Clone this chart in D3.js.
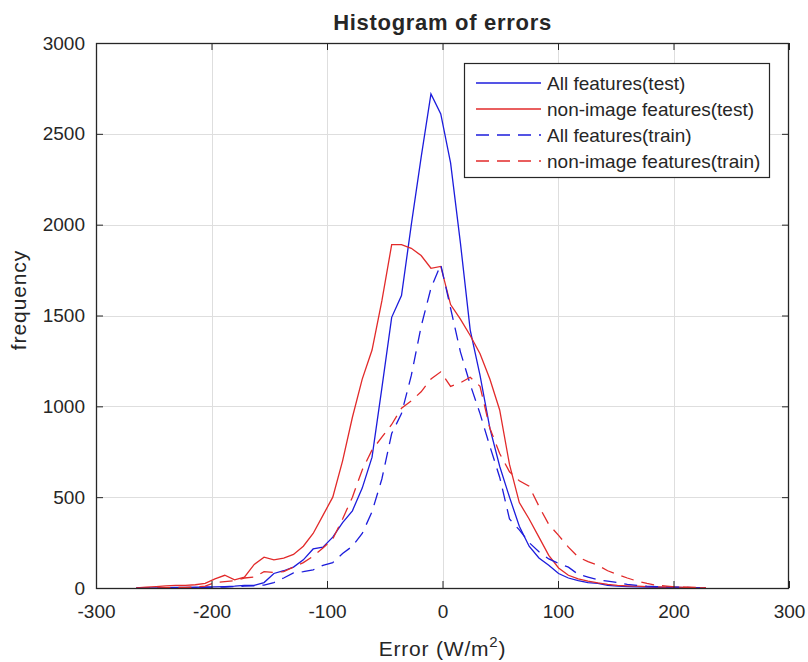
<!DOCTYPE html>
<html>
<head>
<meta charset="utf-8">
<script src="https://cdn.jsdelivr.net/npm/d3@7"></script>
<style>
  html, body { margin: 0; padding: 0; background: #fff; }
  svg { display: block; }
  text { font-family: "Liberation Sans", Arial, Helvetica, sans-serif; fill: #262626; }
</style>
</head>
<body>
<svg id="chart" width="808" height="662"></svg>
<script>
// Histogram bin centres (W/m^2)
const binCenters = [-265, -256.5, -248, -239.5, -231, -222.5, -214, -205.5, -197, -188.5,
  -180, -171.5, -163, -154.5, -146, -137.5, -129, -120.5, -112, -103.5,
  -95, -86.5, -78, -69.5, -61, -52.5, -44, -35.5, -27, -18.5,
  -10, -1.5, 7, 15.5, 24, 32.5, 41, 49.5, 58, 66.5,
  75, 83.5, 92, 100.5, 109, 117.5, 126, 134.5, 143, 151.5,
  160, 168.5, 177, 185.5, 194, 202.5, 211, 219.5, 228];

// Frequencies per bin
const allTest = [0, 0, 0, 2, 3, 3, 4, 5, 6, 8,
  10, 15, 15, 30, 80, 95, 115, 155, 215, 225,
  280, 360, 425, 550, 720, 1100, 1490, 1610, 2000, 2370,
  2720, 2610, 2340, 1900, 1420, 1170, 880, 670, 500, 340,
  230, 165, 125, 80, 55, 40, 30, 25, 15, 10,
  8, 6, 5, 4, 3, 3, 2, 0, 0];

const nonImageTest = [0, 5, 8, 12, 14, 14, 18, 25, 50, 70,
  45, 60, 130, 170, 155, 165, 185, 230, 300, 400,
  500, 700, 940, 1150, 1310, 1580, 1890, 1890, 1870, 1830,
  1760, 1770, 1560, 1480, 1390, 1290, 1150, 980, 680, 470,
  380, 280, 180, 110, 70, 50, 38, 28, 20, 15,
  12, 10, 8, 6, 5, 5, 3, 2, 0];

const allTrain = [0, 0, 0, 0, 0, 2, 3, 4, 5, 5,
  8, 10, 12, 16, 30, 55, 83, 90, 100, 125,
  140, 190, 230, 300, 420, 600, 850, 960, 1170, 1440,
  1650, 1780, 1540, 1300, 1120, 960, 780, 610, 380, 320,
  250, 200, 160, 135, 115, 75, 60, 45, 38, 30,
  20, 14, 10, 8, 6, 5, 3, 0, 0];

const nonImageTrain = [0, 0, 0, 2, 3, 3, 5, 10, 30, 35,
  40, 55, 60, 90, 85, 90, 115, 140, 175, 220,
  270, 380, 500, 650, 760, 830, 900, 990, 1030, 1080,
  1150, 1190, 1110, 1130, 1160, 1110, 880, 740, 640, 590,
  560, 450, 350, 290, 225, 170, 145, 125, 95, 75,
  55, 38, 25, 15, 10, 6, 4, 3, 0];

const xTicks = [-300, -200, -100, 0, 100, 200, 300];
const yTicks = [0, 500, 1000, 1500, 2000, 2500, 3000];

const seriesNames = ["All features(test)", "non-image features(test)",
  "All features(train)", "non-image features(train)"];

const series = [
  { name: seriesNames[0], values: allTest, color: "#1c1cdc", dash: null },
  { name: seriesNames[1], values: nonImageTest, color: "#e22a2a", dash: null },
  { name: seriesNames[2], values: allTrain, color: "#1c1cdc", dash: "13,8" },
  { name: seriesNames[3], values: nonImageTrain, color: "#e22a2a", dash: "13,8" }
];

const svg = d3.select("#chart");
const plotL = 96, plotR = 789, plotT = 43, plotB = 588;

const x = d3.scaleLinear().domain([-300, 300]).range([plotL, plotR]);
const y = d3.scaleLinear().domain([0, 3000]).range([plotB, plotT]);

// grid
const grid = svg.append("g").attr("stroke", "#dedede").attr("stroke-width", 1);
grid.selectAll("line.gx").data(xTicks.slice(1, -1)).enter().append("line")
  .attr("x1", d => Math.round(x(d)) + 0.5).attr("x2", d => Math.round(x(d)) + 0.5)
  .attr("y1", plotT).attr("y2", plotB);
grid.selectAll("line.gy").data(yTicks.slice(1, -1)).enter().append("line")
  .attr("y1", d => Math.round(y(d)) + 0.5).attr("y2", d => Math.round(y(d)) + 0.5)
  .attr("x1", plotL).attr("x2", plotR);

// data lines
const plot = svg.append("g");
const line = d3.line().x((d, i) => x(binCenters[i])).y(d => y(d));
series.forEach(s => {
  plot.append("path")
    .datum(s.values)
    .attr("d", line)
    .attr("fill", "none")
    .attr("stroke", s.color)
    .attr("stroke-width", 1.3)
    .attr("stroke-dasharray", s.dash);
});

// axes with inward ticks on all four sides
const tickLen = 7;
const plainNum = d => String(d);
const bottomAxis = d3.axisBottom(x).tickValues(xTicks).tickSizeInner(-tickLen).tickSizeOuter(0).tickPadding(17)
  .tickFormat(plainNum);
const leftAxis = d3.axisLeft(y).tickValues(yTicks).tickSizeInner(-tickLen).tickSizeOuter(0).tickPadding(11)
  .tickFormat(plainNum);
const topAxis = d3.axisTop(x).tickValues(xTicks).tickSizeInner(-tickLen).tickSizeOuter(0).tickFormat("");
const rightAxis = d3.axisRight(y).tickValues(yTicks).tickSizeInner(-tickLen).tickSizeOuter(0).tickFormat("");

function styleAxis(g) {
  g.select(".domain").remove();
  g.selectAll(".tick line").attr("stroke", "#262626").attr("stroke-width", 1);
  g.selectAll(".tick text").attr("fill", "#262626").style("font-size", "19px")
    .style("font-family", "'Liberation Sans', Arial, sans-serif");
}
svg.append("g").attr("transform", `translate(0,${plotB})`).call(bottomAxis).call(styleAxis);
svg.append("g").attr("transform", `translate(${plotL},0)`).call(leftAxis).call(styleAxis);
svg.append("g").attr("transform", `translate(0,${plotT})`).call(topAxis).call(styleAxis);
svg.append("g").attr("transform", `translate(${plotR},0)`).call(rightAxis).call(styleAxis);

// frame
svg.append("rect")
  .attr("x", plotL + 0.5).attr("y", plotT + 0.5)
  .attr("width", plotR - plotL - 1).attr("height", plotB - plotT)
  .attr("fill", "none").attr("stroke", "#262626").attr("stroke-width", 1.3);

// title and labels
svg.append("text").attr("x", (plotL + plotR) / 2).attr("y", 30)
  .attr("text-anchor", "middle").style("font-size", "22px").style("font-weight", "bold")
  .style("letter-spacing", "0.7px")
  .text("Histogram of errors");

svg.append("text")
  .attr("transform", `translate(26,300) rotate(-90)`)
  .attr("text-anchor", "middle").style("font-size", "21px").style("letter-spacing", "0.9px")
  .text("frequency");

const xl = svg.append("text").attr("x", (plotL + plotR) / 2).attr("y", 656)
  .attr("text-anchor", "middle").style("font-size", "21px").style("letter-spacing", "0.8px");
xl.append("tspan").text("Error (W/m");
xl.append("tspan").attr("dy", -9).style("font-size", "15px").text("2");
xl.append("tspan").attr("dy", 9).text(")");

// legend
const lg = svg.append("g");
lg.append("rect").attr("x", 464.5).attr("y", 63.5).attr("width", 305).attr("height", 114)
  .attr("fill", "#fff").attr("stroke", "#262626").attr("stroke-width", 1.2);
series.forEach((s, i) => {
  const yy = 83 + i * 26;
  lg.append("line").attr("x1", 476).attr("x2", 541).attr("y1", yy).attr("y2", yy)
    .attr("stroke", s.color).attr("stroke-width", 1.3).attr("stroke-dasharray", s.dash);
  lg.append("text").attr("x", 547).attr("y", yy).attr("dy", "0.35em")
    .style("font-size", "19px").text(s.name);
});
</script>
</body>
</html>
